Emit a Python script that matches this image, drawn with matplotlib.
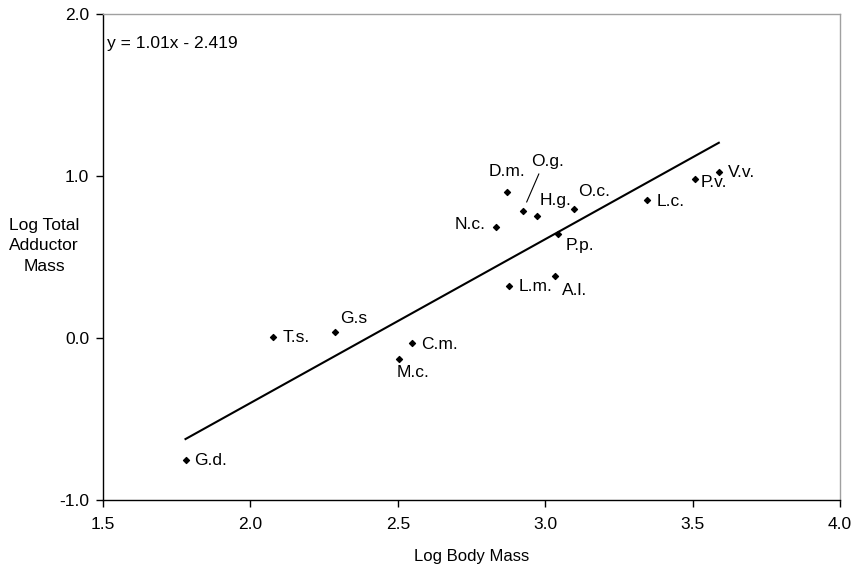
import matplotlib
matplotlib.use("Agg")
import matplotlib.pyplot as plt
import numpy as np

plt.rcParams["font.family"] = ["Liberation Sans", "DejaVu Sans"]

# species, log body mass, log total adductor mass
species = ["D.m.", "O.g.", "H.g.", "O.c.", "N.c.", "P.p.", "L.m.", "A.l.",
           "L.c.", "P.v.", "V.v.", "T.s.", "G.s", "C.m.", "M.c.", "G.d."]
log_body = [2.869, 2.924, 2.973, 3.098, 2.832, 3.042, 2.878, 3.034,
            3.344, 3.508, 3.589, 2.076, 2.286, 2.549, 2.505, 1.780]
log_adductor = [0.904, 0.785, 0.753, 0.798, 0.685, 0.642, 0.323, 0.385,
                0.851, 0.981, 1.028, 0.007, 0.038, -0.030, -0.127, -0.748]

# regression shown in the chart
slope, intercept = 1.01, -2.419

# label placement (offset in pixels, alignment)
label_pos = {
    "D.m.": (0, 20, "center"), "O.g.": (25, 50, "center"),
    "H.g.": (2, 16, "left"), "O.c.": (4, 17, "left"),
    "N.c.": (-10, 3, "right"), "P.p.": (8, -11, "left"),
    "L.m.": (9, -1, "left"), "A.l.": (7, -15, "left"),
    "L.c.": (10, -1, "left"), "P.v.": (6, -3, "left"),
    "V.v.": (9, -1, "left"), "T.s.": (10, 0, "left"),
    "G.s": (5, 14, "left"), "C.m.": (9, -1, "left"),
    "M.c.": (-3, -14, "left"), "G.d.": (9, -1, "left"),
}

FS = 12.5

fig = plt.figure(figsize=(8.58, 5.71), dpi=100)
ax = fig.add_axes([0.12, 0.1235, 0.859, 0.852])

ax.scatter(log_body, log_adductor, marker="D", s=9, color="black", zorder=3)

xs = np.array([min(log_body), max(log_body)])
ax.plot(xs, slope * xs + intercept, color="black", lw=1.5, zorder=2)

for name, x, y in zip(species, log_body, log_adductor):
    dx, dy, ha = label_pos[name]
    if name == "O.g.":
        ax.annotate(name, xy=(x, y), xytext=(dx, dy), textcoords="offset pixels",
                    ha=ha, va="center", fontsize=FS,
                    arrowprops=dict(arrowstyle="-", color="black", lw=0.8,
                                    relpos=(0.3, 0.0), shrinkA=2, shrinkB=7))
    else:
        ax.annotate(name, xy=(x, y), xytext=(dx, dy), textcoords="offset pixels",
                    ha=ha, va="center", fontsize=FS)

ax.text(0.005, 0.94, "y = 1.01x - 2.419", transform=ax.transAxes,
        ha="left", va="center", fontsize=12.5)

ax.set_xlim(1.5, 4.0)
ax.set_ylim(-1.0, 2.0)
ax.set_xticks(np.arange(1.5, 4.01, 0.5))
ax.set_yticks([-1.0, 0.0, 1.0, 2.0])
ax.xaxis.set_major_formatter(matplotlib.ticker.FormatStrFormatter("%.1f"))
ax.yaxis.set_major_formatter(matplotlib.ticker.FormatStrFormatter("%.1f"))
ax.tick_params(direction="out", length=5, width=1, labelsize=12.5, pad=5)
ax.tick_params(axis="x", pad=7)

for side in ["left", "bottom"]:
    ax.spines[side].set_color("black")
    ax.spines[side].set_linewidth(1)
for side in ["top", "right"]:
    ax.spines[side].set_color("#a0a0a0")
    ax.spines[side].set_linewidth(1)

ax.set_xlabel("Log Body Mass", fontsize=12, labelpad=12)
fig.text(44 / 858, 1 - 246 / 571, "Log Total\nAdductor\nMass", ha="center",
         va="center", fontsize=12.5, linespacing=1.45)

fig.savefig("out.png", dpi=100, facecolor="white")
